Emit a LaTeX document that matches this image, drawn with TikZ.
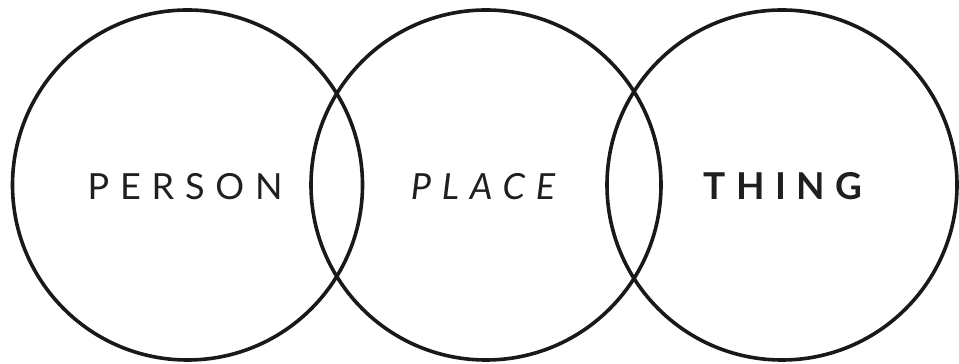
\documentclass[tikz,border=0pt]{standalone}
\usepackage{fontspec}
\setmainfont{Lato}
\newfontfamily\wideregular{Lato}[LetterSpace=30]
\newfontfamily\widebold{Lato}[LetterSpace=28,UprightFont=*-Bold]
\begin{document}
\begin{tikzpicture}[x=1pt,y=1pt,
  ring/.style={draw=black!90,line width=3.6pt},
  word/.style={anchor=base,inner sep=0pt,font=\fontsize{36}{36}\selectfont,text=black!88}]
\useasboundingbox (0,0) rectangle (959,364);
\coordinate (o1) at (187.5,179);
\coordinate (o2) at (486,179);
\coordinate (o3) at (782,179);
\draw[ring] (o1) circle[radius=175];
\draw[ring] (o2) circle[radius=175];
\draw[ring] (o3) circle[radius=175];
\node[word] (t1) at (185,164) {\wideregular PERSON};
\node[word] (t2) at (483,164) {\wideregular\itshape PLACE};
\node[word,font=\fontsize{37}{37}\selectfont] (t3) at (783,164) {\widebold THING};
\end{tikzpicture}
\end{document}
